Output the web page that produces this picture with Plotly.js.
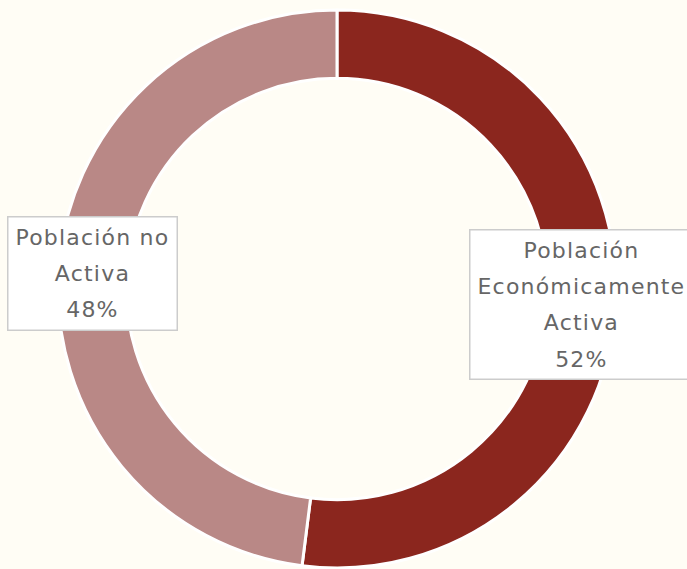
<!DOCTYPE html>
<html>
<head>
<meta charset="utf-8">
<script src="https://cdn.plot.ly/plotly-3.0.1.min.js"></script>
<style>
html,body{margin:0;padding:0;background:#fffdf5;}
#chart{width:687px;height:569px;}
.annotation-text{letter-spacing:1.2px;}
</style>
</head>
<body>
<div id="chart"></div>
<script>
const labels = ["Población<br>Económicamente<br>Activa", "Población no<br>Activa"];
const values = [52, 48];
const colors = ["#8b261e", "#b98886"];

const W = 687, H = 569;
const margin = {l: 0, r: 13, t: 10, b: 1};
const hole = 0.755;
const plotW = W - margin.l - margin.r;
const plotH = H - margin.t - margin.b;
const R = Math.min(plotW, plotH) / 2;
const rMid = R * (1 + hole) / 2;
const total = values.reduce((a, b) => a + b, 0);

const annotations = [];
let cum = 0;
values.forEach((v, i) => {
  const mid = (cum + v / 2) / total * 2 * Math.PI;
  cum += v;
  const pct = Math.round(v / total * 100) + "%";
  const lines = labels[i].split("<br>").concat([pct]);
  annotations.push({
    xref: "paper", yref: "paper",
    x: 0.5 + rMid * Math.sin(mid) / plotW,
    y: 0.5 + rMid * Math.cos(mid) / plotH,
    xanchor: "center", yanchor: "middle",
    showarrow: false,
    text: lines.map(s => '<span style="font-size:22px">' + s + '</span>').join("<br>"),
    font: {family: "DejaVu Sans, sans-serif", size: 28, color: "#666666"},
    bgcolor: "#ffffff",
    bordercolor: "#cccccc",
    borderwidth: 1.5,
    borderpad: 7
  });
});

const data = [{
  type: "pie",
  labels: labels,
  values: values,
  hole: hole,
  sort: false,
  direction: "clockwise",
  rotation: 0,
  textinfo: "none",
  hoverinfo: "label+percent",
  marker: {colors: colors, line: {color: "#ffffff", width: 3}},
  showlegend: false
}];

const layout = {
  width: W, height: H,
  margin: margin,
  paper_bgcolor: "#fffdf5",
  plot_bgcolor: "#fffdf5",
  showlegend: false,
  annotations: annotations
};

Plotly.newPlot("chart", data, layout, {displayModeBar: false, staticPlot: true});
</script>
</body>
</html>
